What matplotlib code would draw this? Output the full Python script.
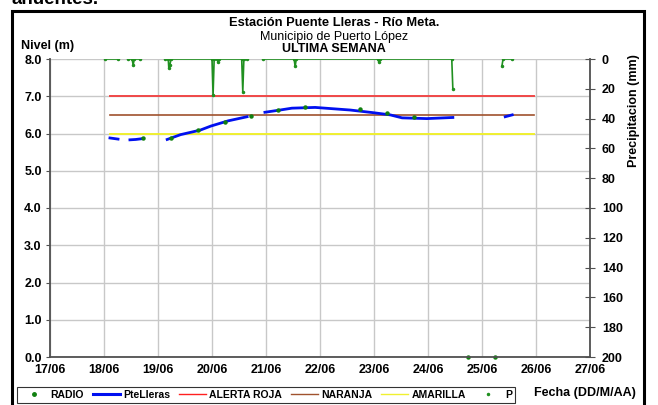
import matplotlib.pyplot as plt
import numpy as np
from matplotlib.lines import Line2D
from matplotlib.patches import Rectangle

plt.rcParams['font.family'] = ['Liberation Sans', 'DejaVu Sans']

# days counted from 17/06 00:00
day_labels = ['17/06', '18/06', '19/06', '20/06', '21/06', '22/06',
              '23/06', '24/06', '25/06', '26/06', '27/06']

# PteLleras level (m), NaN = gap
nivel_t = [1.11, 1.26, np.nan,
           1.48, 1.59, 1.70, np.nan,
           2.17, 2.42, 2.78, 2.98, 3.30, 3.65, np.nan,
           3.98, 4.26, 4.48, 4.91, 5.19, 5.56, 5.98, 6.30, 6.52, 6.98, 7.46, np.nan,
           8.43, 8.56]
nivel_v = [5.88, 5.85, np.nan,
           5.83, 5.84, 5.86, np.nan,
           5.84, 5.97, 6.09, 6.20, 6.34, 6.45, np.nan,
           6.57, 6.63, 6.68, 6.70, 6.67, 6.63, 6.56, 6.50, 6.42, 6.40, 6.43, np.nan,
           6.45, 6.50]

# radio readings (m)
radio_t = [1.72, 2.24, 2.74, 3.24, 3.72, 4.22, 4.72, 5.74, 6.24, 6.74, 7.74, 8.24]
radio_v = [5.87, 5.89, 6.10, 6.31, 6.47, 6.63, 6.72, 6.65, 6.54, 6.45, 0.0, 0.0]

# alert levels
alert_t = [1.11, 8.96]
roja = [7.0, 7.0]
naranja = [6.5, 6.5]
amarilla = [6.0, 6.0]

# precipitation (mm), NaN = gap
p_t = [1.02, 1.26, np.nan,
       1.44, 1.52, 1.54, 1.56, 1.67, np.nan,
       2.13, 2.19, 2.20, 2.22, 2.24, 3.00, 3.02, 3.04, 3.10, 3.11, 3.13,
       3.55, 3.57, 3.59, 3.65, np.nan,
       3.94, 4.52, 4.54, 4.56, 6.07, 6.09, 6.11, 7.44, 7.46, np.nan,
       8.37, 8.39, 8.56]
p_v = [0, 0, np.nan,
       0, 0, 4, 0, 0, np.nan,
       0, 0, 6, 4, 0, 0, 24, 0, 0, 2, 0,
       0, 22, 0, 0, np.nan,
       0, 0, 5, 0, 0, 2, 0, 0, 20, np.nan,
       4.5, 0, 0]

fig = plt.figure(figsize=(6.58, 4.05), dpi=100)
ax = fig.add_axes([50 / 658, 48 / 405, 540 / 658, 298 / 405])
ax2 = ax.twinx()

ax.set_xlim(0, 10)
ax.set_ylim(0, 8)
ax.set_xticks(range(11))
ax.set_xticklabels(day_labels)
ax.set_yticks(np.arange(0, 8.1, 1.0))
ax.set_yticklabels([f'{v:.1f}' for v in np.arange(0, 8.1, 1.0)])
ax.grid(True, color='#c8c8c8', lw=1.0)
ax.set_axisbelow(True)
for s in ['top', 'right']:
    ax.spines[s].set_visible(False)
for s in ['left', 'bottom']:
    ax.spines[s].set_color('#505050')
    ax.spines[s].set_linewidth(1.3)
ax.tick_params(axis='y', length=3, color='#505050', labelsize=9, pad=3)
ax.tick_params(axis='x', length=0, labelsize=9, pad=5)
for lab in ax.get_xticklabels() + ax.get_yticklabels():
    lab.set_fontweight('bold')

ax.plot(alert_t, roja, color='#f04848', lw=1.4, label='ALERTA ROJA')
ax.plot(alert_t, naranja, color='#a0522d', lw=1.2, label='NARANJA')
ax.plot(alert_t, amarilla, color='#f0f030', lw=1.4, label='AMARILLA')
ax.plot(nivel_t, nivel_v, color='#0010f0', lw=2.0, label='PteLleras')
ax.plot(radio_t, radio_v, 'o', color='#108010', ms=2.2, ls='none', label='RADIO',
        clip_on=False)

ax2.set_ylim(200, 0)
ax2.set_yticks(range(0, 201, 20))
ax2.plot(p_t, p_v, color='#209020', lw=1.2, marker='.', ms=3, label='P')
for s in ['top', 'left', 'bottom']:
    ax2.spines[s].set_visible(False)
ax2.spines['right'].set_color('#505050')
ax2.spines['right'].set_linewidth(1.3)
ax2.tick_params(axis='y', direction='inout', length=7, color='#505050',
                labelsize=9, pad=5)
for lab in ax2.get_yticklabels():
    lab.set_fontweight('bold')

# titles and labels
fig.text(334 / 658, 1 - 23 / 405, 'Estación Puente Lleras - Río Meta.', ha='center',
         va='center', fontsize=9.3, fontweight='bold')
fig.text(334 / 658, 1 - 37 / 405, 'Municipio de Puerto López', ha='center',
         va='center', fontsize=9)
fig.text(334 / 658, 1 - 49 / 405, 'ULTIMA SEMANA', ha='center', va='center',
         fontsize=9, fontweight='bold')
fig.text(21 / 658, 1 - 46 / 405, 'Nivel (m)', ha='left', va='center', fontsize=9,
         fontweight='bold')
fig.text(634 / 658, 1 - 111 / 405, 'Precipitacion (mm)', ha='center', va='center',
         rotation=90, fontsize=9, fontweight='bold')
fig.text(636 / 658, 1 - 393 / 405, 'Fecha (DD/M/AA)', ha='right', va='center',
         fontsize=9, fontweight='bold')
fig.text(12 / 658, 1 - 4 / 405, 'anuentes.', ha='left', va='baseline',
         fontsize=13.5, fontweight='bold')

# outer frame
fig.add_artist(Rectangle((12 / 658, -0.1), 632 / 658, 1.1 - 11 / 405,
                         transform=fig.transFigure, fill=False, ec='black', lw=2.2))

handles = [
    Line2D([], [], color='#108010', marker='o', ms=2.5, ls='none'),
    Line2D([], [], color='#0010f0', lw=2.2),
    Line2D([], [], color='#ff2020', lw=1.0),
    Line2D([], [], color='#a0522d', lw=1.0),
    Line2D([], [], color='#f0f030', lw=1.0),
    Line2D([], [], color='#209020', marker='.', ms=3, ls='none'),
]
labels = ['RADIO', 'PteLleras', 'ALERTA ROJA', 'NARANJA', 'AMARILLA', 'P']
leg = fig.legend(handles, labels, ncol=6, loc='lower left', mode='expand',
                 bbox_to_anchor=(17 / 658, 2 / 405, 498 / 658, 20 / 405),
                 prop={'weight': 'bold', 'size': 7.5}, frameon=True, fancybox=False,
                 handlelength=2.6, handletextpad=0.3, columnspacing=0.8,
                 borderpad=0.3, borderaxespad=0)
leg.get_frame().set_edgecolor('black')
leg.get_frame().set_linewidth(0.8)

fig.savefig('out.png', dpi=100)
